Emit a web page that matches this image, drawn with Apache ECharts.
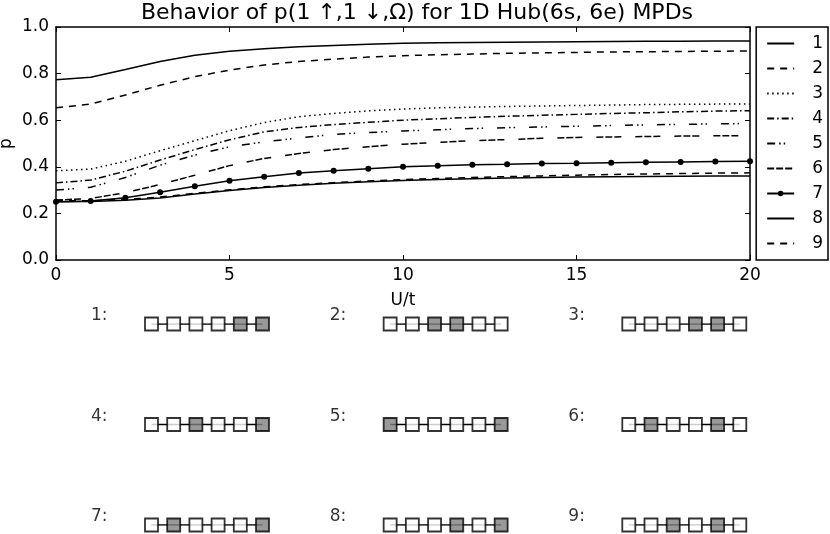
<!DOCTYPE html>
<html lang="en">
<head>
    <meta charset="UTF-8">
    <title>MPD behaviour</title>
    <script src="https://cdn.jsdelivr.net/npm/echarts@6/dist/echarts.min.js"></script>
    <style>
        body { margin: 0; background: #fff; }
    </style>
</head>
<body>
    <div id="main" style="width: 830px;height:534px;"></div>
    <script type="text/javascript">
        // U/t values (x axis)
        const uVals = [0, 1, 2, 3, 4, 5, 6, 7, 8, 9, 10, 11, 12, 13, 14, 15, 16, 17, 18, 19, 20];

        // p values, one array per MPD
        const p1 = [0.774, 0.784, 0.818, 0.852, 0.879, 0.896, 0.907, 0.915, 0.921, 0.926, 0.930, 0.932, 0.934, 0.935, 0.936, 0.937, 0.938, 0.939, 0.939, 0.940, 0.940];
        const p2 = [0.653, 0.669, 0.708, 0.750, 0.787, 0.815, 0.837, 0.852, 0.862, 0.871, 0.877, 0.881, 0.884, 0.887, 0.889, 0.891, 0.893, 0.894, 0.895, 0.896, 0.897];
        const p3 = [0.383, 0.390, 0.424, 0.469, 0.512, 0.555, 0.590, 0.615, 0.629, 0.640, 0.648, 0.653, 0.656, 0.659, 0.661, 0.663, 0.665, 0.667, 0.668, 0.669, 0.670];
        const p4 = [0.331, 0.343, 0.381, 0.429, 0.474, 0.516, 0.550, 0.569, 0.581, 0.591, 0.600, 0.606, 0.612, 0.617, 0.621, 0.625, 0.629, 0.632, 0.636, 0.639, 0.641];
        const p5 = [0.300, 0.312, 0.354, 0.407, 0.450, 0.486, 0.507, 0.524, 0.539, 0.547, 0.554, 0.559, 0.564, 0.568, 0.571, 0.574, 0.577, 0.580, 0.582, 0.584, 0.586];
        const p6 = [0.257, 0.264, 0.289, 0.324, 0.364, 0.405, 0.436, 0.457, 0.474, 0.486, 0.497, 0.505, 0.512, 0.517, 0.522, 0.526, 0.528, 0.530, 0.532, 0.533, 0.534];
        const p7 = [0.250, 0.253, 0.267, 0.291, 0.317, 0.340, 0.357, 0.373, 0.383, 0.392, 0.400, 0.404, 0.409, 0.411, 0.414, 0.415, 0.417, 0.419, 0.421, 0.423, 0.424];
        const p8 = [0.250, 0.251, 0.256, 0.266, 0.283, 0.298, 0.311, 0.321, 0.329, 0.336, 0.341, 0.345, 0.349, 0.352, 0.354, 0.356, 0.357, 0.358, 0.359, 0.360, 0.360];
        const p9 = [0.255, 0.254, 0.260, 0.270, 0.286, 0.301, 0.314, 0.324, 0.332, 0.339, 0.345, 0.350, 0.354, 0.358, 0.361, 0.364, 0.367, 0.369, 0.371, 0.373, 0.374];

        const seriesNames = ['1', '2', '3', '4', '5', '6', '7', '8', '9'];
        const seriesData = [p1, p2, p3, p4, p5, p6, p7, p8, p9];
        const dashTypes = ['solid', [7, 6], [1.5, 3.5], [7, 3, 1.5, 3], [8, 4, 1.5, 3, 1.5, 14], [7, 2, 7, 2, 7, 14], 'solid', 'solid', [7, 6]];

        // occupied sites (1 = grey) of each MPD on the 6-site chain
        const configs = ['000011', '001100', '000110', '001001', '100001', '010010', '010001', '000101', '001010'];

        const xTicks = [0, 5, 10, 15, 20];
        const yTicks = [0, 0.2, 0.4, 0.6, 0.8, 1.0];

        const font = 'DejaVu Sans';

        const series = seriesNames.map((name, i) => ({
            name: name,
            type: 'line',
            xAxisIndex: 0,
            yAxisIndex: 0,
            data: uVals.map((u, k) => [u, seriesData[i][k]]),
            symbol: i === 6 ? 'circle' : 'none',
            symbolSize: 6,
            showSymbol: i === 6,
            itemStyle: { color: '#000' },
            lineStyle: { color: '#000', width: 1.5, type: dashTypes[i] },
            z: 3
        }));

        // chain diagrams under the plot, in "site" units
        const colShift = 10.75;
        configs.forEach((cfg, i) => {
            const col = i % 3, row = Math.floor(i / 3);
            const sites = cfg.split('').map((c, j) => ({
                value: [col * colShift + j, row],
                itemStyle: { color: c === '1' ? '#7f7f7f' : '#fff' }
            }));
            series.push({
                type: 'line',
                xAxisIndex: 2,
                yAxisIndex: 2,
                data: sites.map(s => s.value),
                symbol: 'none',
                lineStyle: { color: '#000', width: 1.5 },
                silent: true,
                z: 2
            });
            series.push({
                type: 'scatter',
                xAxisIndex: 2,
                yAxisIndex: 2,
                data: sites,
                symbol: 'rect',
                symbolSize: 13,
                itemStyle: { borderColor: '#000', borderWidth: 1.8 },
                silent: true,
                z: 3
            });
            series.push({
                type: 'scatter',
                xAxisIndex: 2,
                yAxisIndex: 2,
                data: [[col * colShift - 2.35, row]],
                symbolSize: 0,
                itemStyle: { color: '#000' },
                label: {
                    show: true, position: 'inside', formatter: (i + 1) + ':',
                    color: '#000', textBorderWidth: 0, fontFamily: font, fontSize: 17, offset: [0, -8]
                },
                silent: true
            });
        });

        const tickStyle = { inside: true, length: 5, lineStyle: { color: '#000', width: 1 } };
        const lineStyle = { show: true, onZero: false, lineStyle: { color: '#000', width: 1.5 } };

        const legendData = seriesNames.map((n, i) => ({
            name: n,
            itemStyle: { opacity: i === 6 ? 1 : 0 }
        }));

        const options = {
            animation: false,
            backgroundColor: '#fff',
            title: {
                text: 'Behavior of p(1 \u2191,1 \u2193,\u03A9) for 1D Hub(6s, 6e) MPDs',
                left: 412, top: -3, textAlign: 'center',
                textStyle: { fontFamily: font, fontSize: 22, fontWeight: 'normal', color: '#000' }
            },
            legend: {
                data: legendData,
                orient: 'vertical',
                right: 2, top: 27,
                itemWidth: 27, itemHeight: 7, itemGap: 8,
                padding: [8, 5, 8, 10],
                borderColor: '#000', borderWidth: 1.5,
                textStyle: { fontFamily: font, fontSize: 17, color: '#000', padding: [0, 0, 0, 13] }
            },
            grid: [
                { left: 56, right: 80, top: 27, bottom: 274, show: false, outerBoundsMode: 'none' },
                { left: 62.7, width: 688.2, top: 324, height: 201, show: false, outerBoundsMode: 'none' }
            ],
            xAxis: [
                {
                    gridIndex: 0, type: 'value', min: 0, max: 20, interval: 5, position: 'bottom',
                    name: 'U/t', nameLocation: 'middle', nameGap: 32,
                    nameTextStyle: { fontFamily: font, fontSize: 17, color: '#000' },
                    axisLine: lineStyle, axisTick: tickStyle, splitLine: { show: false },
                    axisLabel: { fontFamily: font, fontSize: 17, color: '#000', margin: 7,
                        customValues: xTicks }
                },
                {
                    gridIndex: 0, type: 'value', min: 0, max: 20, interval: 5, position: 'top',
                    axisLine: lineStyle, axisTick: tickStyle, splitLine: { show: false },
                    axisLabel: { show: false }
                },
                { gridIndex: 1, type: 'value', min: -4, max: 27, show: false }
            ],
            yAxis: [
                {
                    gridIndex: 0, type: 'value', min: 0, max: 1, interval: 0.2, position: 'left',
                    name: 'p', nameLocation: 'middle', nameGap: 41, nameMoveOverlap: false,
                    nameTextStyle: { fontFamily: font, fontSize: 17, color: '#000' },
                    axisLine: lineStyle, axisTick: tickStyle, splitLine: { show: false },
                    axisLabel: { fontFamily: font, fontSize: 17, color: '#000', margin: 7,
                        customValues: yTicks, formatter: v => v.toFixed(1) }
                },
                {
                    gridIndex: 0, type: 'value', min: 0, max: 1, interval: 0.2, position: 'right',
                    axisLine: lineStyle, axisTick: tickStyle, splitLine: { show: false },
                    axisLabel: { show: false }
                },
                { gridIndex: 1, type: 'value', min: 0, max: 2, inverse: true, show: false }
            ],
            series: series
        };

        let myChart = echarts.init(document.getElementById('main'));
        myChart.setOption(options);
    </script>
</body>
</html>
